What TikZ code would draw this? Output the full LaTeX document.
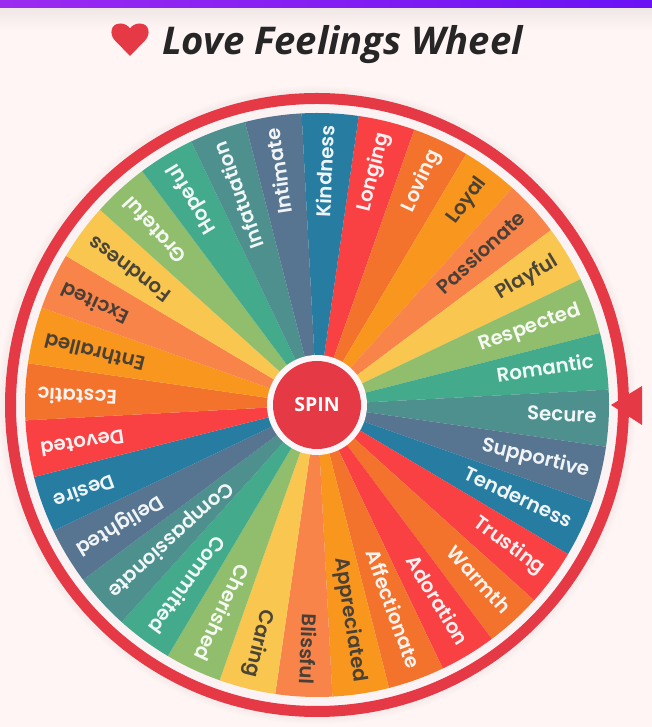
\documentclass[tikz,border=0pt]{standalone}
\usepackage{fontspec}
\setmainfont{Poppins}[BoldFont={Poppins SemiBold}]
\newfontfamily\titlefont{Open Sans}
\definecolor{pagebg}{HTML}{FFF5F5}
\definecolor{gapbg}{HTML}{FBF2F4}
\definecolor{hubring}{HTML}{FBF6F8}
\definecolor{ringred}{HTML}{E63946}
\definecolor{darktext}{HTML}{3C3A36}
\definecolor{c0}{HTML}{F94144}
\definecolor{c1}{HTML}{F3722C}
\definecolor{c2}{HTML}{F8961E}
\definecolor{c3}{HTML}{F9844A}
\definecolor{c4}{HTML}{F9C74F}
\definecolor{c5}{HTML}{90BE6D}
\definecolor{c6}{HTML}{43AA8B}
\definecolor{c7}{HTML}{4D908E}
\definecolor{c8}{HTML}{577590}
\definecolor{c9}{HTML}{277DA1}
\tikzset{
  wedgelabel/.style={font=\bfseries\fontsize{19.8}{20}\selectfont, inner sep=0pt, anchor=east, text height=10pt, text depth=0pt, text opacity=.92},
}
\begin{document}
\begin{tikzpicture}[x=1pt,y=1pt]
\useasboundingbox (0,0) rectangle (652,727);
\fill[pagebg] (0,0) rectangle (652,727);
\shade[top color=black!6!pagebg,bottom color=pagebg] (0,697) rectangle (652,719);
\shade[left color={rgb,255:red,156;green,43;blue,240},right color={rgb,255:red,106;green,17;blue,245}] (0,719) rectangle (652,727);
% title
\node[name=title,anchor=base west,inner sep=0pt,text=black!85,font=\titlefont\bfseries\itshape\fontsize{38.2}{38}\selectfont] at (162,672) {Love Feelings Wheel};
\fill[ringred] (130,671) -- (114.5,687) .. controls (109.5,692.5) and (110,703.5) .. (120.5,703.5) .. controls (125,703.5) and (128.5,701) .. (130,698.5) .. controls (131.5,701) and (135,703.5) .. (139.5,703.5) .. controls (150,703.5) and (150.5,692.5) .. (145.5,687) -- cycle;
\begin{scope}[shift={(317,322)}]
  \foreach \r in {319,317,315}{\fill[black,opacity=0.012] (0,0) circle[radius=\r];}
  \fill[gapbg] (0,0) circle[radius=312];
  \draw[ringred,line width=11pt] (0,0) circle[radius=306.5];
  \foreach \n/\col/\tc [count=\i from 0] in {
    Longing/c0/white,Loving/c1/white,Loyal/c2/darktext,Passionate/c3/darktext,Playful/c4/darktext,Respected/c5/white,Romantic/c6/white,Secure/c7/white,Supportive/c8/white,Tenderness/c9/white,Trusting/c0/white,Warmth/c1/white,Adoration/c0/white,Affectionate/c1/white,Appreciated/c2/darktext,Blissful/c3/darktext,Caring/c4/darktext,Cherished/c5/white,Committed/c6/white,Compassionate/c7/white,Delighted/c8/white,Desire/c9/white,Devoted/c0/white,Ecstatic/c1/white,Enthralled/c2/darktext,Excited/c3/darktext,Fondness/c4/darktext,Grateful/c5/white,Hopeful/c6/white,Infatuation/c7/white,Intimate/c8/white,Kindness/c9/white}{
    \pgfmathsetmacro{\a}{76.15-11.25*\i}
    \pgfmathsetmacro{\s}{\a+5.625}
    \pgfmathsetmacro{\e}{\a-5.625}
    \fill[\col] (0,0) -- (\s:292pt) arc[start angle=\s,end angle=\e,radius=292pt] -- cycle;
  }
  \foreach \n/\col/\tc [count=\i from 0] in {
    Longing/c0/white,Loving/c1/white,Loyal/c2/darktext,Passionate/c3/darktext,Playful/c4/darktext,Respected/c5/white,Romantic/c6/white,Secure/c7/white,Supportive/c8/white,Tenderness/c9/white,Trusting/c0/white,Warmth/c1/white,Adoration/c0/white,Affectionate/c1/white,Appreciated/c2/darktext,Blissful/c3/darktext,Caring/c4/darktext,Cherished/c5/white,Committed/c6/white,Compassionate/c7/white,Delighted/c8/white,Desire/c9/white,Devoted/c0/white,Ecstatic/c1/white,Enthralled/c2/darktext,Excited/c3/darktext,Fondness/c4/darktext,Grateful/c5/white,Hopeful/c6/white,Infatuation/c7/white,Intimate/c8/white,Kindness/c9/white}{
    \pgfmathsetmacro{\a}{76.15-11.25*\i}
    \node[wedgelabel,text=\tc,rotate=\a,name=lab\i] at (\a:280pt) {\n};
  }
  \fill[hubring] (0,0) circle[radius=50];
  \node[name=spin,circle,fill=ringred,minimum size=88pt,inner sep=0pt] at (0,0) {};
  \node[name=spinlabel,text=white,inner sep=0pt,font=\fontspec{Open Sans}\bfseries\fontsize{19.5}{20}\selectfont] at (0,0) {SPIN};
\end{scope}
\fill[ringred] (611,322) -- (642,341) -- (642,302) -- cycle;
\end{tikzpicture}
\end{document}
